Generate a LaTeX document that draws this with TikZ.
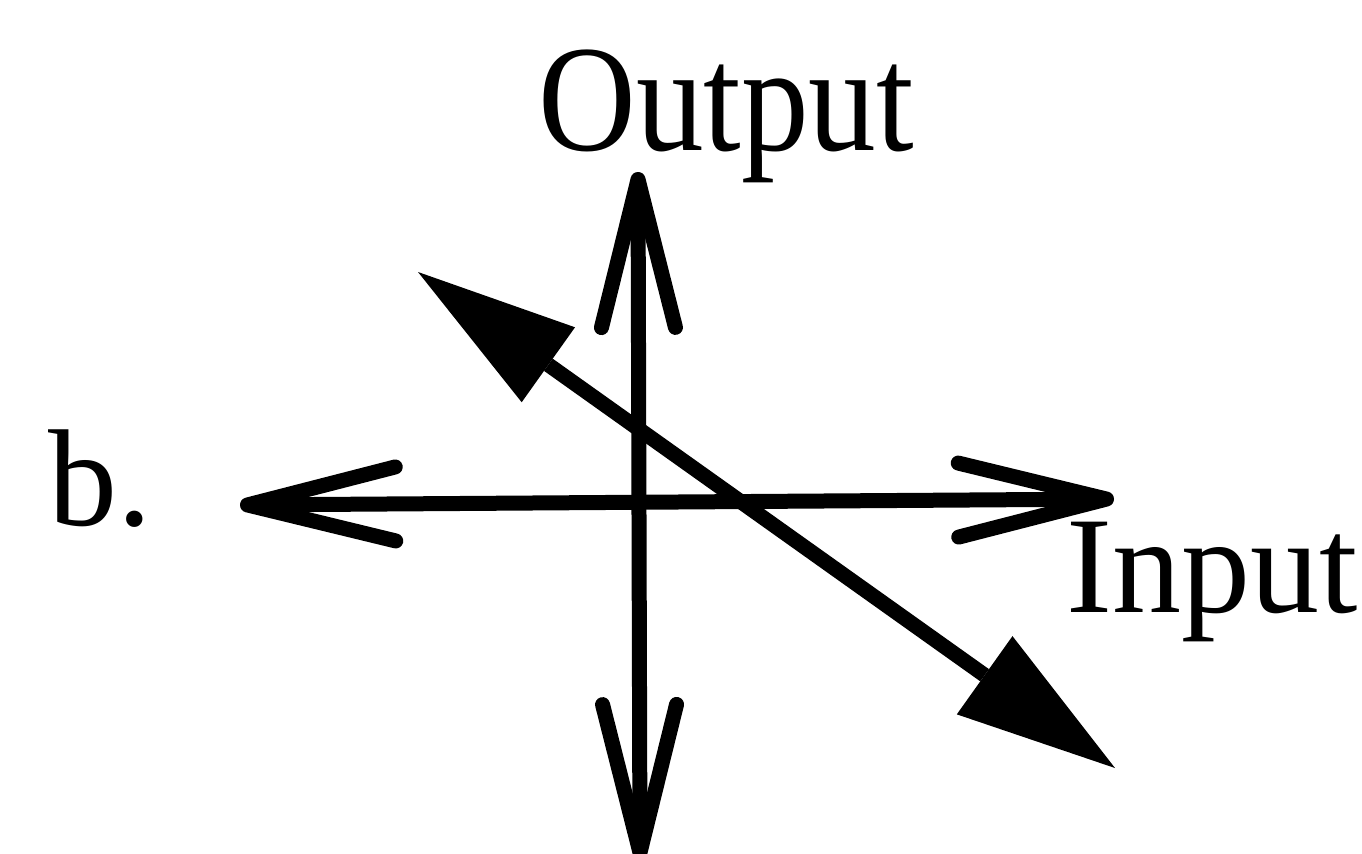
\documentclass[tikz,border=0pt]{standalone}
\usepackage{fontspec}
\setmainfont{Liberation Serif}
\usetikzlibrary{arrows.meta}
\tikzset{
  lbl/.style={inner sep=0pt, font=\fontsize{69pt}{80pt}\selectfont, anchor=base west},
  biglbl/.style={lbl, font=\fontsize{76pt}{86pt}\selectfont},
  barbline/.style={line width=7.5pt, line cap=butt,
    {Straight Barb[length=74pt,width=37pt,line cap=round,line join=round]}-{Straight Barb[length=74pt,width=37pt,line cap=round,line join=round]}},
  headline/.style={line width=7.5pt,
    {Triangle[length=80pt,width=46pt,line width=0pt]}-{Triangle[length=80pt,width=48pt,line width=0pt]}}
}
\begin{document}
\begin{tikzpicture}[x=0.5pt,y=-0.5pt]
\useasboundingbox (0,0) rectangle (1362,853);
\node[biglbl] (out) at (538,150) {\scalebox{0.89}[1]{Output}};
\node[lbl] (in) at (1066,612) {Input};
\node[lbl] (b) at (48,525) {b.};
\coordinate (vt) at (638,172);
\coordinate (vb) at (640,860);
\coordinate (hl) at (240,505);
\coordinate (hr) at (1114,499);
\coordinate (dt) at (418,272);
\coordinate (db) at (1115,768);
\draw[barbline] (vb) -- (vt);
\draw[barbline] (hl) -- (hr);
\draw[headline] (dt) -- (db);
\end{tikzpicture}
\end{document}
